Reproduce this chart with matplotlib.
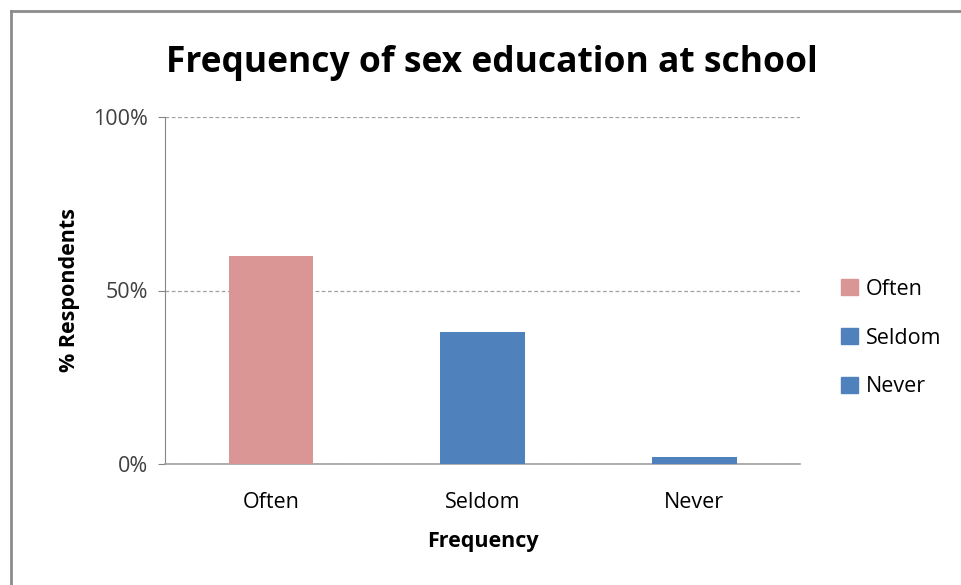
import matplotlib
matplotlib.use("Agg")
import matplotlib.pyplot as plt
from matplotlib.lines import Line2D
from matplotlib.patches import Patch

categories = ["Often", "Seldom", "Never"]
values = [60, 38, 2]
colors = ["#D99694", "#4F81BD", "#4F81BD"]
yticks = [0, 50, 100]
ytick_labels = ["0%", "50%", "100%"]

plt.rcParams['font.family'] = ['Open Sans', 'DejaVu Sans']

fig = plt.figure(figsize=(9.62, 5.85), dpi=100)
ax = fig.add_axes([165/962, 1 - 464/585, 635/962, (464 - 117)/585])

x = range(len(categories))
ax.bar(x, values, width=0.4, color=colors, zorder=3)

ax.set_xlim(-0.5, len(categories) - 0.5)
ax.set_ylim(0, 100)
ax.set_xticks(list(x))
ax.set_xticklabels(categories, fontsize=15.5)
ax.set_yticks(yticks)
ax.set_yticklabels(ytick_labels, fontsize=15.5, color="#404040")
ax.tick_params(axis='x', length=0, pad=20)
ax.tick_params(axis='y', length=5, color="#868686", pad=7)

ax.yaxis.grid(True, linestyle=(0, (3, 2)), color="#A0A0A0", linewidth=0.9, zorder=0)
for s in ["top", "right"]:
    ax.spines[s].set_visible(False)
ax.spines["left"].set_color("#868686")
ax.spines["bottom"].set_color("#A0A0A0")
ax.spines["bottom"].set_linewidth(1.2)

ax.set_xlabel("Frequency", fontsize=15.5, fontweight="bold", labelpad=13)
ax.set_ylabel("% Respondents", fontsize=15.5, fontweight="bold", labelpad=10)

fig.text(492/962, 1 - 63/585, "Frequency of sex education at school",
         fontsize=25.5, fontweight="bold", ha="center", va="center")

handles = [Patch(color=c, label=l) for c, l in zip(colors, categories)]
fig.legend(handles=handles, loc="center left", bbox_to_anchor=(822/962, 1 - 338/585),
           frameon=False, fontsize=15.5, handlelength=0.75, handleheight=0.75,
           handletextpad=0.4, labelspacing=1.3)

# chart area border
fig.add_artist(Line2D([11/962, 11/962], [0, 1 - 11/585], color="#8C8C8C", linewidth=2))
fig.add_artist(Line2D([11/962, 1], [1 - 11/585, 1 - 11/585], color="#8C8C8C", linewidth=2))

fig.savefig("out.png", dpi=100)
